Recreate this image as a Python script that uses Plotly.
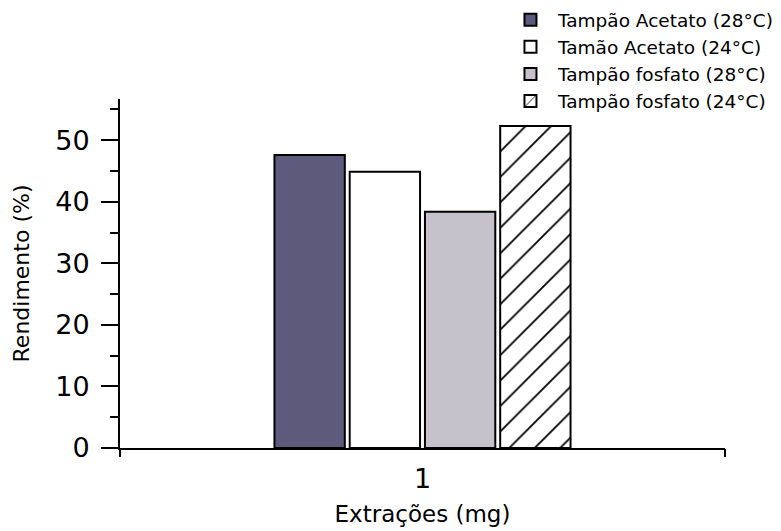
import plotly.graph_objects as go

categories = [1]
series_names = ["Tampão Acetato (28°C)", "Tamão Acetato (24°C)",
                "Tampão fosfato (28°C)", "Tampão fosfato (24°C)"]
values = [[47.6], [44.9], [38.4], [52.3]]
y_ticks = [0, 10, 20, 30, 40, 50]
end_ticks = [0, 2]

fill_colors = ["#5e5a7c", "#ffffff", "#c6c2cc", "#ffffff"]
patterns = [None, None, None, dict(shape="/", fgcolor="black", fgopacity=1, bgcolor="white", size=18, solidity=0.1)]

font_family = "DejaVu Sans, Liberation Sans, Arial, sans-serif"

fig = go.Figure()
for name, vals, col, pat in zip(series_names, values, fill_colors, patterns):
    marker = dict(color=col, line=dict(color="black", width=2))
    if pat:
        marker["pattern"] = pat
    fig.add_trace(go.Bar(x=categories, y=vals, name=name, marker=marker))

# empty helper traces so the overlay axes carrying the end ticks are drawn
fig.add_trace(go.Scatter(x=[], y=[], xaxis="x2", yaxis="y", showlegend=False, hoverinfo="skip"))
fig.add_trace(go.Scatter(x=[], y=[], xaxis="x3", yaxis="y", showlegend=False, hoverinfo="skip"))

fig.update_layout(
    width=781, height=531,
    margin=dict(l=120, r=56, t=99, b=83, autoexpand=False),
    paper_bgcolor="white", plot_bgcolor="white",
    barmode="group", bargap=0.005, bargroupgap=0.065,
    font=dict(family=font_family, color="black"),
    showlegend=True,
    legend=dict(x=0.633, y=1.28, xanchor="left", yanchor="top",
                font=dict(size=18.5, family=font_family), bgcolor="rgba(0,0,0,0)",
                traceorder="normal", itemwidth=45, tracegroupgap=0),
    xaxis=dict(range=[0, 2], showline=True, linecolor="black", linewidth=2, automargin=False,
               showgrid=False, zeroline=False, tickvals=categories, ticktext=[str(c) for c in categories],
               ticks="", tickfont=dict(size=27), ticklabelstandoff=6,
               title=dict(text="Extrações (mg)", font=dict(size=23), standoff=12)),
    xaxis2=dict(range=[0, 2], overlaying="x", anchor="y", side="bottom", showline=False, automargin=False,
                showgrid=False, zeroline=False, tickvals=end_ticks, showticklabels=False,
                ticks="outside", ticklen=8, tickwidth=2, tickcolor="black"),
    xaxis3=dict(range=[0, 2], overlaying="x", anchor="y", side="bottom", showline=False, automargin=False,
                showgrid=False, zeroline=False, tickvals=end_ticks[1:], showticklabels=False,
                ticks="inside", ticklen=8, tickwidth=2, tickcolor="black"),
    yaxis=dict(range=[0, 56.7], showline=True, linecolor="black", linewidth=2, automargin=False,
               showgrid=False, zeroline=False, tickvals=y_ticks,
               ticks="outside", ticklen=17, tickwidth=2, tickcolor="black",
               tickfont=dict(size=27), ticklabelstandoff=6,
               minor=dict(dtick=5, tick0=5, ticks="outside", ticklen=8, tickwidth=2, tickcolor="black", showgrid=False),
               title=dict(text="Rendimento (%)" + "\u00a0" * 5, font=dict(size=22), standoff=20)),
)

fig.write_html("out.html", config={"displayModeBar": False},
               post_script="document.body.style.margin='0';document.body.style.overflow='hidden';")
